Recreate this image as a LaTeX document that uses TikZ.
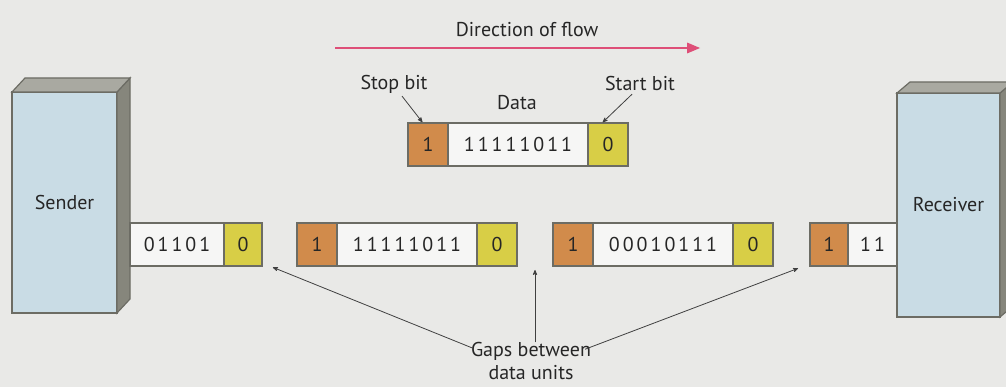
\documentclass[tikz,border=0pt]{standalone}
\usepackage{fontspec}
\setmainfont{PT Sans}
\newfontfamily\bitfont[LetterSpace=15]{PT Sans}
\usepackage{xcolor}
\usepackage{tikz}
\usetikzlibrary{arrows,positioning,shapes}
\usetikzlibrary{calc}

\definecolor{bg}{HTML}{E9E9E7}
\definecolor{boxblue}{HTML}{C9DCE5}
\definecolor{sidegray}{HTML}{86867C}
\definecolor{topgray}{HTML}{A9A9A1}
\definecolor{edge}{HTML}{6C6C64}
\definecolor{stopbit}{HTML}{D18B4B}
\definecolor{startbit}{HTML}{D8CE46}
\definecolor{flowpink}{HTML}{DE4F78}

\begin{document}
\begin{tikzpicture}[x=1pt,y=-1pt,
  every node/.style={font=\fontsize{20}{23}\selectfont,inner sep=0pt,outer sep=0pt,text=black!85},
  station/.style={draw=edge,line width=1.2pt,fill=boxblue,anchor=north west},
  side/.style={draw=edge,line width=1.2pt,fill=sidegray},
  lid/.style={draw=edge,line width=1.2pt,fill=topgray},
  bit/.style={draw=edge,line width=1.4pt,minimum height=43pt,font=\bitfont\fontsize{20}{23}\selectfont},
  databits/.style={bit,fill=white!60!bg},
  stopb/.style={bit,fill=stopbit,minimum width=40pt},
  startb/.style={bit,fill=startbit,minimum width=40pt},
  ptr/.style={->,>=stealth',thick,black!75,shorten >=1pt},
  flow/.style={->,>=triangle 45,line width=2pt,flowpink}]

    \clip (0,0) rectangle (1006,387);
    \fill[bg] (0,0) rectangle (1006,387);

    % sender and receiver
    \node[station,minimum width=105pt,minimum height=221pt] (sender) at (12,92) {Sender};
    \draw[side] (sender.north east) -- ++(13,-14) -- ++(0,221) -- (sender.south east) -- cycle;
    \draw[lid] (sender.north west) -- ++(13,-14) -- ++(105,0) -- (sender.north east) -- cycle;

    \node[station,minimum width=103pt,minimum height=224pt] (receiver) at (897,93) {Receiver};
    \draw[side] (receiver.north east) -- ++(13,-11) -- ++(0,224) -- (receiver.south east) -- cycle;
    \draw[lid] (receiver.north west) -- ++(13,-11) -- ++(103,0) -- (receiver.north east) -- cycle;

    % direction of flow
    \node (dirlbl) at (527,30) {Direction of flow};
    \coordinate (flowL) at (335,48);
    \coordinate (flowR) at (700,48);
    \draw[flow] (flowL) -- (flowR);

    % one frame, labelled
    \node[stopb,anchor=north west] (t1) at (408,123) {1};
    \node[databits,minimum width=140pt,right=0pt of t1] (t2) {11111011};
    \node[startb,right=0pt of t2] (t3) {0};

    \node (stoplbl) at (394,84) {Stop bit};
    \node (datalbl) at (517,103) {Data};
    \node (startlbl) at (640,84) {Start bit};
    \draw[ptr] ($(stoplbl.south)+(8,3)$) -- ($(t1.north)+(-5,0)$);
    \draw[ptr] ($(startlbl.south)+(-8,3)$) -- ($(t3.north)+(-6,0)$);

    % frames on the line
    \node[databits,minimum width=94pt,anchor=north west] (s1) at (130,223) {01101};
    \node[startb,minimum width=38pt,right=0pt of s1] (s2) {0};

    \node[stopb,anchor=north west] (a1) at (297,223) {1};
    \node[databits,minimum width=140pt,right=0pt of a1] (a2) {11111011};
    \node[startb,right=0pt of a2] (a3) {0};

    \node[stopb,anchor=north west] (b1) at (553,223) {1};
    \node[databits,minimum width=140pt,right=0pt of b1] (b2) {00010111};
    \node[startb,right=0pt of b2] (b3) {0};

    \node[stopb,minimum width=38pt,anchor=north west] (c1) at (810,223) {1};
    \node[databits,minimum width=49pt,right=0pt of c1] (c2) {11};

    % gaps
    \node[align=center] (gaps) at (531,361) {Gaps between\\data units};
    \coordinate (gap1) at (272,267);
    \coordinate (gap2) at (535,269);
    \coordinate (gap3) at (799,268);
    \draw[ptr] ($(gaps.north west)+(2,6)$) -- (gap1);
    \draw[ptr] (gaps.north -| gap2) -- (gap2);
    \draw[ptr] ($(gaps.north east)+(-6,7)$) -- (gap3);
\end{tikzpicture}
\end{document}
